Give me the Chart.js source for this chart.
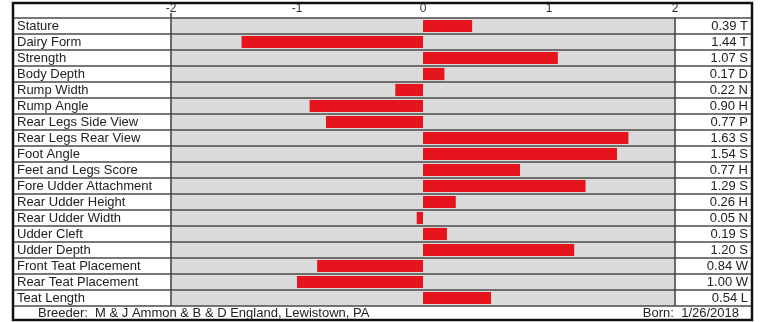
<!DOCTYPE html>
<html>
<head>
<meta charset="utf-8">
<script src="https://cdn.jsdelivr.net/npm/chart.js@4/dist/chart.umd.min.js"></script>
<style>
  html, body { margin: 0; padding: 0; background: #ffffff; }
  #wrap { width: 763px; height: 322px; }
</style>
</head>
<body>
<div id="wrap"><canvas id="c" width="763" height="322"></canvas></div>
<script>
// ---- data ----
const traits = [
  'Stature', 'Dairy Form', 'Strength', 'Body Depth', 'Rump Width', 'Rump Angle',
  'Rear Legs Side View', 'Rear Legs Rear View', 'Foot Angle', 'Feet and Legs Score',
  'Fore Udder Attachment', 'Rear Udder Height', 'Rear Udder Width', 'Udder Cleft',
  'Udder Depth', 'Front Teat Placement', 'Rear Teat Placement', 'Teat Length'
];
const scores = [
  0.39, -1.44, 1.07, 0.17, -0.22, -0.90,
  -0.77, 1.63, 1.54, 0.77,
  1.29, 0.26, -0.05, 0.19,
  1.20, -0.84, -1.00, 0.54
];
const valueLabels = [
  '0.39 T', '1.44 T', '1.07 S', '0.17 D', '0.22 N', '0.90 H',
  '0.77 P', '1.63 S', '1.54 S', '0.77 H',
  '1.29 S', '0.26 H', '0.05 N', '0.19 S',
  '1.20 S', '0.84 W', '1.00 W', '0.54 L'
];
const axisTicks = [-2, -1, 0, 1, 2];
const breederText = 'Breeder:  M & J Ammon & B & D England, Lewistown, PA';
const bornText = 'Born:  1/26/2018';

// ---- table frame plugin ----
const FONT = '"Liberation Sans", Arial, sans-serif';
const tablePlugin = {
  id: 'table',
  beforeDraw(chart) {
    const ctx = chart.ctx;
    const a = chart.chartArea;
    ctx.save();
    ctx.fillStyle = '#dbdbdb';
    ctx.fillRect(a.left, a.top, a.right - a.left, a.bottom - a.top);
    ctx.restore();
  },
  afterDatasetsDraw(chart) {
    const ctx = chart.ctx;
    const a = chart.chartArea;
    const yS = chart.scales.y;
    const yR = chart.scales.y2;
    const L = yS.left - 4, R = yR.right + 4;
    const n = traits.length;
    ctx.save();
    ctx.strokeStyle = '#4a4a4a';
    ctx.lineWidth = 1.6;
    const step = (a.bottom - a.top) / n;
    for (let i = 0; i <= n; i++) {
      const y = a.top + i * step;
      ctx.beginPath();
      ctx.moveTo(L, y);
      ctx.lineTo(R, y);
      ctx.stroke();
    }
    ctx.beginPath();
    ctx.moveTo(a.left, a.top - 5);
    ctx.lineTo(a.left, a.bottom);
    ctx.moveTo(a.right, a.top);
    ctx.lineTo(a.right, a.bottom);
    ctx.stroke();
    // outer frame
    ctx.strokeStyle = '#111';
    ctx.lineWidth = 2.5;
    ctx.strokeRect(L, 3, R - L, chart.height - 5);
    // footer text
    ctx.fillStyle = '#222';
    ctx.font = '13px ' + FONT;
    ctx.textBaseline = 'middle';
    const fy = (a.bottom + chart.height - 2) / 2;
    ctx.textAlign = 'left';
    ctx.fillText(breederText, L + 25, fy);
    ctx.textAlign = 'right';
    ctx.fillText(bornText, R - 13, fy);
    ctx.restore();
  }
};

new Chart(document.getElementById('c'), {
  type: 'bar',
  data: {
    labels: traits,
    datasets: [{
      data: scores,
      backgroundColor: '#e6141c',
      borderWidth: 0,
      barPercentage: 0.76,
      categoryPercentage: 1.0,
      yAxisID: 'y'
    }]
  },
  options: {
    indexAxis: 'y',
    responsive: false,
    animation: false,
    devicePixelRatio: 1,
    layout: { padding: { left: 17, right: 15, top: 4, bottom: 16 } },
    plugins: { legend: { display: false }, tooltip: { enabled: false }, title: { display: false } },
    scales: {
      x: {
        position: 'top',
        min: axisTicks[0],
        max: axisTicks[axisTicks.length - 1],
        afterBuildTicks(scale) { scale.ticks = axisTicks.map(v => ({ value: v })); },
        afterFit(scale) { scale.height = 14; },
        grid: { display: false, drawTicks: false },
        border: { display: false },
        ticks: { padding: 2, color: '#333', font: { family: FONT, size: 12 } }
      },
      y: {
        type: 'category',
        position: 'left',
        offset: true,
        afterFit(scale) { scale.width = 154; },
        grid: { display: false, drawTicks: false },
        border: { display: false },
        ticks: { autoSkip: false, crossAlign: 'far', padding: 0, color: '#222', font: { family: FONT, size: 13 } }
      },
      y2: {
        type: 'category',
        position: 'right',
        offset: true,
        labels: valueLabels,
        afterFit(scale) { scale.width = 73; },
        grid: { display: false, drawTicks: false },
        border: { display: false },
        ticks: { autoSkip: false, crossAlign: 'far', padding: 0, color: '#222', font: { family: FONT, size: 13 } }
      }
    }
  },
  plugins: [tablePlugin]
});
</script>
</body>
</html>
